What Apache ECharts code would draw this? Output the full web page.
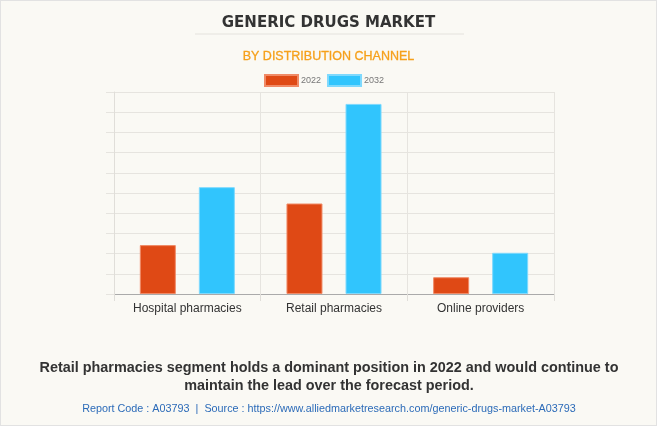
<!DOCTYPE html>
<html>
<head>
<meta charset="utf-8">
<script src="https://cdn.jsdelivr.net/npm/echarts@6/dist/echarts.min.js"></script>
<style>
  html, body { margin: 0; padding: 0; background: #faf9f4; }
  #chart { width: 655px; height: 424px; border: 1px solid #e2e2e2; }
</style>
</head>
<body>
<div id="chart"></div>
<script>
// distribution channels
const categories = ['Hospital pharmacies', 'Retail pharmacies', 'Online providers']
const years = ['2022', '2032']
// values (arbitrary units, axis hidden)
const values2022 = [2.42, 4.48, 0.83]
const values2032 = [5.29, 9.41, 2.04]

const colors = ['#df4915', '#31c5fd']
const borders = ['#f08a66', '#7fd9fd']

const chart = echarts.init(document.getElementById('chart'))

const gridLine = { lineStyle: { color: '#e6e4df', width: 1 } }

chart.setOption({
    backgroundColor: '#faf9f4',
    textStyle: { fontFamily: 'Liberation Sans' },
    title: [
        {
            text: 'GENERIC DRUGS MARKET',
            left: 'center', top: 10,
            textStyle: { fontSize: 15, fontWeight: 'bold', color: '#333', fontFamily: 'DejaVu Sans' }
        },
        {
            text: 'BY DISTRIBUTION CHANNEL',
            left: 'center', top: 44,
            textStyle: { fontSize: 12.5, fontWeight: 'normal', color: '#f6a01a', textBorderColor: '#f6a01a', textBorderWidth: 0.3 }
        }
    ],
    graphic: [
        {
            type: 'line',
            shape: { x1: 194, y1: 33, x2: 463, y2: 33 },
            style: { stroke: '#e4e2dd', lineWidth: 1 }
        },
        {
            type: 'text',
            x: 328, y: 358,
            style: {
                text: 'Retail pharmacies segment holds a dominant position in 2022 and would continue to\nmaintain the lead over the forecast period.',
                align: 'center',
                font: 'bold 14.4px "Liberation Sans"',
                lineHeight: 18,
                fill: '#333'
            }
        },
        {
            type: 'text',
            x: 328, y: 403,
            style: {
                text: 'Report Code : A03793  |  Source : https://www.alliedmarketresearch.com/generic-drugs-market-A03793',
                align: 'center',
                font: '10.8px "Liberation Sans"',
                fill: '#2c6bb8'
            }
        }
    ],
    legend: {
        data: years,
        top: 68,
        left: 258,
        itemWidth: 33,
        itemHeight: 11,
        itemGap: 6,
        icon: 'rect',
        textStyle: { fontSize: 9, color: '#777', padding: [0, 0, 0, -2] }
    },
    grid: { left: 113, right: 102, top: 91, bottom: 131 },
    xAxis: {
        type: 'category',
        data: categories,
        axisLine: { lineStyle: { color: '#aaa' } },
        axisTick: { show: true, length: 7, lineStyle: { color: '#e0ded9' } },
        splitLine: { show: true, ...gridLine },
        axisLabel: { fontSize: 12, color: '#333', margin: 9 }
    },
    yAxis: {
        type: 'value',
        min: 0, max: 10, interval: 1,
        axisLine: { show: true, lineStyle: { color: '#e0ded9' } },
        axisTick: { show: true, length: 8, lineStyle: { color: '#e6e4df' } },
        axisLabel: { show: false },
        splitLine: gridLine
    },
    series: [
        {
            name: years[0], type: 'bar', data: values2022,
            barWidth: 36, barGap: '64%',
            itemStyle: { color: colors[0], borderColor: borders[0], borderWidth: 1 }
        },
        {
            name: years[1], type: 'bar', data: values2032,
            barWidth: 36,
            itemStyle: { color: colors[1], borderColor: borders[1], borderWidth: 1 }
        }
    ]
})
</script>
</body>
</html>
